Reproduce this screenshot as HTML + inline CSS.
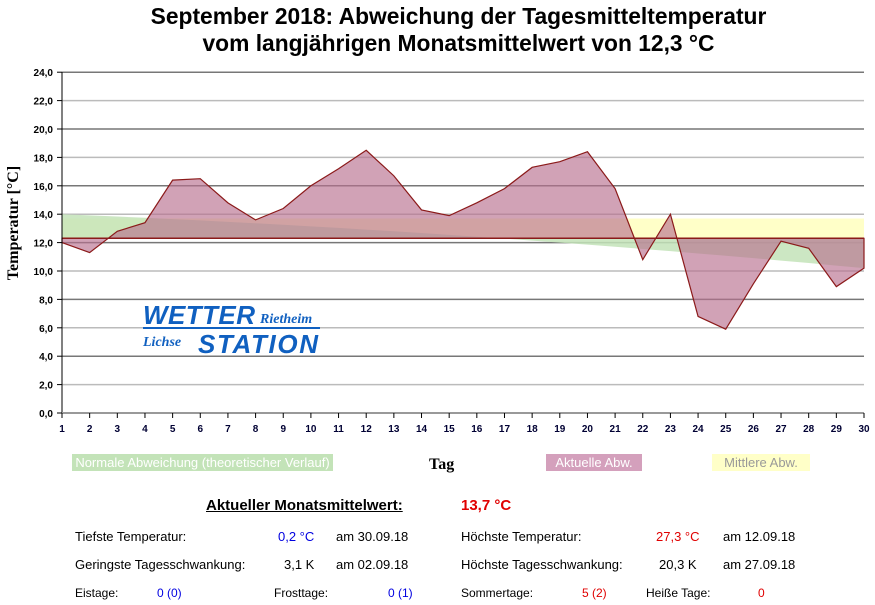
<!DOCTYPE html>
<html><head><meta charset="utf-8"><style>
body{margin:0;background:#fff;width:875px;height:605px;overflow:hidden;font-family:"Liberation Sans",sans-serif}
.t{position:absolute;font-size:13px;color:#000;white-space:nowrap}
</style></head><body>
<div style="position:absolute;left:21px;top:3px;width:875px;text-align:center;font-weight:bold;font-size:22.8px;line-height:27px">September 2018: Abweichung der Tagesmitteltemperatur<br>vom langjährigen Monatsmittelwert von 12,3 °C</div>
<svg width="875" height="605" style="position:absolute;left:0;top:0" font-family="Liberation Sans, sans-serif">
<g id="grid" stroke="#999" stroke-width="1.5"></g>
<polygon id="yel" fill="#ffffc8"/>
<polygon id="grn" fill="#c3e3b8" opacity="0.85"/>
<polygon id="pnk" fill="#b8708f" fill-opacity="0.65" stroke="#8b1a1a" stroke-width="1.2"/>
<line x1="62" x2="864" y1="238.3" y2="238.3" stroke="#8b1a1a" stroke-width="1.5"/>
<line x1="62" x2="62" y1="72" y2="413" stroke="#000"/>
<line x1="62" x2="864" y1="413" y2="413" stroke="#999" stroke-width="2"/>
<g id="lab" font-size="10" font-weight="bold" fill="#000"></g>
<text transform="translate(18,223) rotate(-90)" text-anchor="middle" font-family="Liberation Serif, serif" font-weight="bold" font-size="16">Temperatur [°C]</text>
<text x="143" y="324" font-size="26" font-weight="bold" font-style="italic" fill="#1060c0" textLength="112">WETTER</text>
<text x="260" y="323" font-size="14" font-weight="bold" font-style="italic" fill="#1060c0" font-family="Liberation Serif, serif">Rietheim</text>
<rect x="143" y="327" width="177" height="2" fill="#1060c0"/>
<text x="143" y="346" font-size="14" font-weight="bold" font-style="italic" fill="#1060c0" font-family="Liberation Serif, serif">Lichse</text>
<text x="198" y="353" font-size="26" font-weight="bold" font-style="italic" fill="#1060c0" textLength="120">STATION</text>
</svg>
<div class="t" style="left:72px;top:454px;width:261px;height:17px;line-height:17px;text-align:center;background:#c3e3b8;color:#fff">Normale Abweichung (theoretischer Verlauf)</div>
<div class="t" style="left:429px;top:456px;font-family:'Liberation Serif',serif;font-weight:bold;font-size:16px">Tag</div>
<div class="t" style="left:546px;top:454px;width:96px;height:17px;line-height:17px;text-align:center;background:#d4a0bc;color:#fff">Aktuelle Abw.</div>
<div class="t" style="left:712px;top:454px;width:98px;height:17px;line-height:17px;text-align:center;background:#ffffc8;color:#999">Mittlere Abw.</div>
<div class="t" style="left:206px;top:497px;font-weight:bold;font-size:15px;text-decoration:underline">Aktueller Monatsmittelwert:</div>
<div class="t" style="left:461px;top:497px;font-weight:bold;font-size:15px;color:#e00000">13,7 °C</div>
<div class="t" style="left:75px;top:529px">Tiefste Temperatur:</div>
<div class="t" style="left:278px;top:529px;color:#0000e0">0,2 °C</div>
<div class="t" style="left:336px;top:529px">am 30.09.18</div>
<div class="t" style="left:461px;top:529px">Höchste Temperatur:</div>
<div class="t" style="left:656px;top:529px;color:#e00000">27,3 °C</div>
<div class="t" style="left:723px;top:529px">am 12.09.18</div>
<div class="t" style="left:75px;top:557px">Geringste Tagesschwankung:</div>
<div class="t" style="left:284px;top:557px">3,1 K</div>
<div class="t" style="left:336px;top:557px">am 02.09.18</div>
<div class="t" style="left:461px;top:557px">Höchste Tagesschwankung:</div>
<div class="t" style="left:659px;top:557px">20,3 K</div>
<div class="t" style="left:723px;top:557px">am 27.09.18</div>
<div class="t" style="left:75px;top:586px;font-size:12px">Eistage:</div>
<div class="t" style="left:157px;top:586px;font-size:12px;color:#0000e0">0 (0)</div>
<div class="t" style="left:274px;top:586px;font-size:12px">Frosttage:</div>
<div class="t" style="left:388px;top:586px;font-size:12px;color:#0000e0">0 (1)</div>
<div class="t" style="left:461px;top:586px;font-size:12px">Sommertage:</div>
<div class="t" style="left:582px;top:586px;font-size:12px;color:#e00000">5 (2)</div>
<div class="t" style="left:646px;top:586px;font-size:12px">Heiße Tage:</div>
<div class="t" style="left:758px;top:586px;font-size:12px;color:#e00000">0</div>
<script>
var d=[12.0,11.3,12.8,13.4,16.4,16.5,14.8,13.6,14.4,16.0,17.2,18.5,16.7,14.3,13.9,14.8,15.8,17.3,17.7,18.4,15.8,10.8,14.0,6.8,5.9,9.1,12.1,11.6,8.9,10.2];
function X(i){return 62+i*802/29}function Y(v){return 413-v*14.2}
var g=document.getElementById('grid'),l=document.getElementById('lab'),s='',t='';
for(var v=2;v<=24;v+=2){s+='<line x1="62" x2="864" y1="'+Y(v)+'" y2="'+Y(v)+'" stroke="'+(v%4?'#bbb':'#777')+'"/>';}
for(var v=0;v<=24;v+=2){t+='<text x="53" y="'+(Y(v)+4)+'" text-anchor="end">'+v+',0</text><line x1="57" x2="62" y1="'+Y(v)+'" y2="'+Y(v)+'" stroke="#000"/>';}
for(var i=0;i<30;i++){t+='<text x="'+X(i)+'" y="432" text-anchor="middle" fill="#003">'+(i+1)+'</text><line x1="'+X(i)+'" x2="'+X(i)+'" y1="413" y2="418" stroke="#000"/>';}
g.innerHTML=s;l.innerHTML=t;
var b=Y(12.3);
document.getElementById('yel').setAttribute('points','62,'+b+' 864,'+b+' 864,'+Y(13.7)+' 62,'+Y(13.7));
var gp='62,'+b+' ';for(var i=0;i<30;i++){var f=i/29;gp+=X(i)+','+Y(14.0-3.8*(0.6*f+0.4*f*f))+' ';}gp+='864,'+b;
document.getElementById('grn').setAttribute('points',gp);
var pp='62,'+b+' ';for(var i=0;i<30;i++)pp+=X(i)+','+Y(d[i])+' ';pp+='864,'+b;
document.getElementById('pnk').setAttribute('points',pp);
</script>
</body></html>
